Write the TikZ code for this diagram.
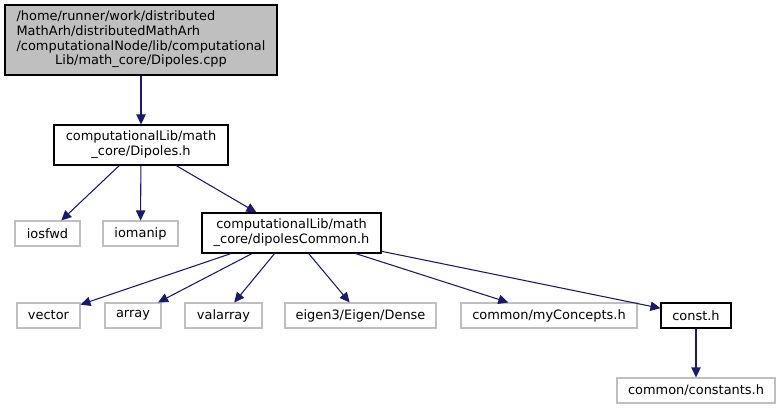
\documentclass[tikz,border=0pt]{standalone}
\usepackage{fontspec}
\setmainfont{DejaVu Sans}
\usetikzlibrary{arrows.meta}
\definecolor{edgeblue}{HTML}{191970}
\definecolor{lgray}{HTML}{BFBFBF}
\tikzset{
  base/.style={rectangle, inner sep=0pt, align=center, font=\fontsize{9.7}{11.2}\selectfont, line width=0.8pt},
  mainbox/.style={base, draw=black, fill=lgray},
  filebox/.style={base, draw=black, fill=white},
  extbox/.style={base, draw=lgray, fill=white, minimum height=25*0.75pt},
  edge/.style={draw=edgeblue, line width=0.8pt, -{Triangle[length=7.5pt, width=7pt]}}
}
\begin{document}
\begin{tikzpicture}[x=0.75pt, y=-0.75pt]
\useasboundingbox (0,0) rectangle (781,409);
\node[mainbox, minimum width=272*0.75pt, minimum height=70*0.75pt] (top) at (141,40) {\renewcommand\arraystretch{0.98}\begin{tabular}{@{}l@{}}/home/runner/work/distributed\\MathArh/distributedMathArh\\/computationalNode/lib/computational\\\multicolumn{1}{@{}c@{}}{Lib/math\_core/Dipoles.cpp}\end{tabular}};
\node[filebox, minimum width=174*0.75pt, minimum height=40*0.75pt] (dh) at (141,145) {computationalLib/math\\\_core/Dipoles.h};
\node[extbox, minimum width=65*0.75pt] (iosfwd) at (47.5,233.5) {iosfwd};
\node[extbox, minimum width=75*0.75pt] (iomanip) at (140.5,233.5) {iomanip};
\node[filebox, minimum width=179*0.75pt, minimum height=40*0.75pt] (dc) at (291.5,233) {computationalLib/math\\\_core/dipolesCommon.h};
\node[extbox, minimum width=63*0.75pt] (vector) at (48.5,315.5) {vector};
\node[extbox, minimum width=56*0.75pt] (array) at (133,315.5) {array};
\node[extbox, minimum width=77*0.75pt] (valarray) at (223.5,315.5) {valarray};
\node[extbox, minimum width=151*0.75pt] (eigen) at (360.5,315.5) {eigen3/Eigen/Dense};
\node[extbox, minimum width=176*0.75pt] (myc) at (549,315.5) {common/myConcepts.h};
\node[filebox, minimum width=70*0.75pt, minimum height=25*0.75pt] (const) at (696,315.5) {const.h};
\node[extbox, minimum width=158*0.75pt] (constants) at (696,390.5) {common/constants.h};
\draw[edge] (top) -- (dh);
\draw[edge] (dh) -- (iosfwd);
\draw[edge] (dh) -- (iomanip);
\draw[edge] (dh) -- (dc);
\draw[edge] (dc) -- (vector);
\draw[edge] (dc) -- (array);
\draw[edge] (dc) -- (valarray);
\draw[edge] (dc) -- (eigen);
\draw[edge] (dc) -- (myc);
\draw[edge] (dc) -- (const);
\draw[edge] (const) -- (constants);
\end{tikzpicture}
\end{document}
